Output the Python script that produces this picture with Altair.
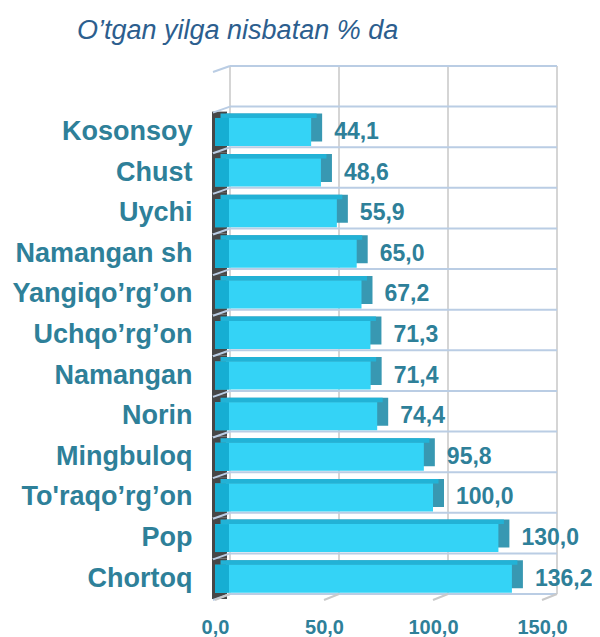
import altair as alt
import pandas as pd

# ---- data ----
categories = ["Kosonsoy", "Chust", "Uychi", "Namangan sh", "Yangiqo’rg’on",
              "Uchqo’rg’on", "Namangan", "Norin", "Mingbuloq", "To'raqo’rg’on",
              "Pop", "Chortoq"]
values = [44.1, 48.6, 55.9, 65.0, 67.2, 71.3, 71.4, 74.4, 95.8, 100.0, 130.0, 136.2]
tick_values = [0, 50, 100, 150]
title_text = "O’tgan yilga nisbatan % da"

BLANK = " "
domain = [BLANK] + categories

df = pd.DataFrame({
    "cat": categories,
    "val": values,
    "lab": [f"{v:.1f}".replace(".", ",") for v in values],
})
walls = pd.DataFrame({"cat": domain})
last = pd.DataFrame({"cat": [categories[-1]]})
tk = pd.DataFrame({"t": tick_values})
one = pd.DataFrame({"a": [0]})

# ---- style ----
FONT = "Liberation Sans"
TEXT = "#2E8099"
TITLE = "#2C5E8E"
FRONT = "#34D3F6"
SHADE = "#16AED3"
TOPC = "#22B2D6"
SIDE = "#3898B2"
DARK = "#474747"
BLUE = "#BACDE4"
GRID = "#D5D5D5"

W, H = 327, 528
STEP = H / len(domain)
BAR_H = 28
DX, DY = 11, 4.5
WX, WY = 15, 5

xscale = alt.Scale(domain=[0, 150], nice=False, zero=True)
yscale = alt.Scale(domain=domain, paddingInner=0, paddingOuter=0)

xaxis = alt.Axis(values=tick_values,
                 labelExpr="replace(format(datum.value, '.1f'), '.', ',')",
                 grid=False, domain=False, ticks=False, tickSize=0,
                 labelFlush=False, labelOverlap=False,
                 labelPadding=18, labelFontSize=20, labelFontWeight="bold",
                 labelColor=TEXT, labelFont=FONT, title=None)
yaxis = alt.Axis(grid=False, domain=False, ticks=False, tickSize=0,
                 labelPadding=23, labelFontSize=27, labelFontWeight="bold",
                 labelColor=TEXT, labelFont=FONT, labelLimit=400, title=None)


def Y(**kw):
    return alt.Y("cat:N", scale=yscale, sort=domain, axis=yaxis, **kw)


def X(f):
    return alt.X(f, scale=xscale, axis=xaxis)


def XD(v):
    return alt.XDatum(v, scale=xscale, axis=xaxis, type="quantitative")


# back wall vertical gridlines
vgrid = alt.Chart(tk).mark_rule(color=GRID, strokeWidth=2, xOffset=WX,
                                yOffset=-WY, y2Offset=-WY).encode(
    x=X("t:Q"), y=alt.value(0), y2=alt.value(H))

# back wall horizontal lines (band boundaries)
hlines = alt.Chart(walls).mark_rule(color=BLUE, strokeWidth=2, xOffset=WX,
                                    x2Offset=WX, yOffset=-WY).encode(
    x=XD(0), x2=alt.datum(150), y=Y(bandPosition=0))
hbottom = alt.Chart(last).mark_rule(color=BLUE, strokeWidth=2, xOffset=WX,
                                    x2Offset=WX, yOffset=-WY).encode(
    x=XD(0), x2=alt.datum(150), y=Y(bandPosition=1))

# dark left wall
dark = alt.Chart(df).mark_bar(color=DARK, height=STEP, xOffset=-3,
                              x2Offset=DX + 1).encode(
    x=XD(0), x2=alt.datum(0), y=Y())

# slanted floor edges at the left
slants = alt.Chart(walls).mark_rule(color=BLUE, strokeWidth=2, xOffset=-2,
                                    x2Offset=WX, yOffset=1, y2Offset=-WY).encode(
    x=XD(0), x2=alt.datum(0),
    y=Y(bandPosition=0), y2=alt.Y2("cat:N", bandPosition=0))
slant_bottom = alt.Chart(last).mark_rule(color=BLUE, strokeWidth=2, xOffset=-2,
                                         x2Offset=WX, yOffset=1,
                                         y2Offset=-WY).encode(
    x=XD(0), x2=alt.datum(0),
    y=Y(bandPosition=1), y2=alt.Y2("cat:N", bandPosition=1))

# bottom floor ticks
floor_ticks = alt.Chart(tk).mark_rule(color="#C9C9C9", strokeWidth=2,
                                      x2Offset=WX, yOffset=1,
                                      y2Offset=-WY).encode(
    x=X("t:Q"), x2="t:Q", y=alt.value(H), y2=alt.value(H))

# 3D bar pieces
side = alt.Chart(df).mark_bar(color=SIDE, height=BAR_H, xOffset=DX,
                              x2Offset=DX, yOffset=-DY).encode(
    x=X("val:Q"), x2=alt.datum(0), y=Y())
top = alt.Chart(df).mark_bar(color=TOPC, height=DY, xOffset=DX / 2,
                             x2Offset=DX / 2,
                             yOffset=-(BAR_H / 2 + DY / 2)).encode(
    x=X("val:Q"), x2=alt.datum(0), y=Y())
front = alt.Chart(df).mark_bar(color=FRONT, height=BAR_H).encode(
    x=X("val:Q"), x2=alt.datum(0), y=Y())
shade = alt.Chart(df).mark_bar(color=SHADE, height=BAR_H, x2Offset=14).encode(
    x=XD(0), x2=alt.datum(0), y=Y())

labels = alt.Chart(df).mark_text(align="left", baseline="middle", dx=23,
                                 fontSize=23, fontWeight="bold", color=TEXT,
                                 font=FONT).encode(
    x=X("val:Q"), y=Y(), text="lab:N")

title = alt.Chart(one).mark_text(text=title_text, align="left",
                                 baseline="alphabetic", fontSize=27,
                                 fontStyle="italic", color=TITLE,
                                 font=FONT).encode(
    x=alt.value(-138), y=alt.value(-32))

chart = alt.layer(
    vgrid, hlines, hbottom, dark, slants, slant_bottom, floor_ticks,
    side, top, front, shade, labels, title
).properties(
    width=W, height=H,
    autosize=alt.AutoSizeParams(type="none"),
    padding={"left": 207, "top": 63, "right": 50, "bottom": 42},
).configure_view(strokeWidth=0)

chart.save("out.html", embed_options={"renderer": "svg", "actions": False})
